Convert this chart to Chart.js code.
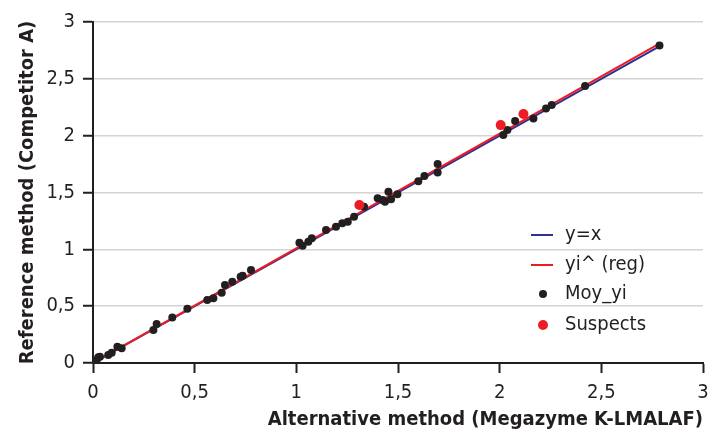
<!DOCTYPE html>
<html>
<head>
<meta charset="utf-8">
<script src="https://cdn.jsdelivr.net/npm/chart.js@4.4.1/dist/chart.umd.min.js"></script>
<style>
  html, body { margin: 0; padding: 0; background: #fff; }
  #wrap { width: 720px; height: 432px; }
</style>
</head>
<body>
<div id="wrap"><canvas id="c" width="720" height="432"></canvas></div>
<script>
// values
var moyX = [0.018, 0.026, 0.034, 0.075, 0.092, 0.12, 0.141, 0.297, 0.313, 0.39, 0.464,
    0.562, 0.592, 0.633, 0.649, 0.685, 0.726, 0.736, 0.777,
    1.015, 1.031, 1.059, 1.076, 1.146, 1.195, 1.226, 1.253, 1.284, 1.333,
    1.40, 1.425, 1.436, 1.453, 1.466, 1.497, 1.60, 1.63, 1.695, 1.695,
    2.018, 2.038, 2.076, 2.166, 2.228, 2.256, 2.42, 2.786];
var moyY = [0.026, 0.05, 0.055, 0.07, 0.09, 0.143, 0.129, 0.29, 0.343, 0.40, 0.478,
    0.554, 0.569, 0.618, 0.686, 0.715, 0.759, 0.768, 0.818,
    1.058, 1.032, 1.067, 1.097, 1.17, 1.199, 1.229, 1.243, 1.287, 1.375,
    1.449, 1.434, 1.419, 1.507, 1.44, 1.484, 1.60, 1.645, 1.75, 1.677,
    2.005, 2.049, 2.128, 2.152, 2.24, 2.269, 2.436, 2.794];
var suspX = [1.31, 2.005, 2.117];
var suspY = [1.39, 2.093, 2.19];
var identX = [0, 2.79];
var identY = [0, 2.79];
var regX = [0, 2.79];
var regY = [0.0, 2.815];
var tickVals = [0, 0.5, 1, 1.5, 2, 2.5, 3];

function pts(xs, ys) {
    return xs.map(function (x, i) { return { x: x, y: ys[i] }; });
}
function fmt(v) { return String(v).replace('.', ','); }

var FONT = "'Liberation Sans Narrow', 'DejaVu Sans Condensed', 'Arial Narrow', sans-serif";
var INK = '#231f20';
var BLUE = '#2e3192';
var RED = '#ed1c24';

var legendPlugin = {
    id: 'insideLegend',
    afterDatasetsDraw: function (chart) {
        var ctx = chart.ctx;
        var a = chart.chartArea;
        var x0 = a.right - 172;
        var rows = [
            { label: 'y=x', kind: 'line', color: BLUE, y: a.top + 213 },
            { label: 'yi^ (reg)', kind: 'line', color: RED, y: a.top + 243 },
            { label: 'Moy_yi', kind: 'dot', color: INK, r: 4, y: a.top + 272 },
            { label: 'Suspects', kind: 'dot', color: RED, r: 5, y: a.top + 303 }
        ];
        ctx.save();
        rows.forEach(function (r) {
            if (r.kind === 'line') {
                ctx.strokeStyle = r.color;
                ctx.lineWidth = 2;
                ctx.beginPath();
                ctx.moveTo(x0, r.y);
                ctx.lineTo(x0 + 22, r.y);
                ctx.stroke();
            } else {
                ctx.fillStyle = r.color;
                ctx.beginPath();
                ctx.arc(x0 + 12, r.y, r.r, 0, Math.PI * 2);
                ctx.fill();
            }
            ctx.fillStyle = INK;
            ctx.font = '20px ' + FONT;
            ctx.textBaseline = 'middle';
            ctx.textAlign = 'left';
            ctx.fillText(r.label, x0 + 34, r.y);
        });
        ctx.restore();
    }
};

new Chart(document.getElementById('c'), {
    type: 'scatter',
    data: {
        datasets: [
            {
                label: 'Suspects', data: pts(suspX, suspY), order: 0,
                backgroundColor: RED, borderColor: RED, pointRadius: 5, pointBorderWidth: 0
            },
            {
                label: 'Moy_yi', data: pts(moyX, moyY), order: 1,
                backgroundColor: INK, borderColor: INK, pointRadius: 4, pointBorderWidth: 0
            },
            {
                label: 'yi^ (reg)', type: 'line', data: pts(regX, regY), order: 2,
                borderColor: RED, borderWidth: 2, pointRadius: 0, fill: false
            },
            {
                label: 'y=x', type: 'line', data: pts(identX, identY), order: 3,
                borderColor: BLUE, borderWidth: 2, pointRadius: 0, fill: false
            }
        ]
    },
    options: {
        responsive: false,
        animation: false,
        layout: { padding: { top: 22, right: 17, left: 0, bottom: 0 } },
        plugins: {
            legend: { display: false },
            tooltip: { enabled: false }
        },
        scales: {
            x: {
                type: 'linear', min: 0, max: 3,
                afterBuildTicks: function (s) { s.ticks = tickVals.map(function (v) { return { value: v }; }); },
                afterFit: function (s) { s.height = 69; },
                border: { color: INK, width: 2 },
                grid: { drawOnChartArea: false, tickColor: INK, tickLength: 10, tickWidth: 2 },
                ticks: {
                    color: INK, padding: 8, maxRotation: 0,
                    font: { family: FONT, size: 20 },
                    callback: function (v) { return fmt(v); }
                },
                title: {
                    display: true, align: 'end', text: 'Alternative method (Megazyme K-LMALAF)',
                    color: INK, padding: { top: 2, bottom: 0 },
                    font: { family: FONT, size: 20, weight: 'bold' }
                }
            },
            y: {
                type: 'linear', min: 0, max: 3,
                afterBuildTicks: function (s) { s.ticks = tickVals.map(function (v) { return { value: v }; }); },
                afterFit: function (s) { s.width = 93; },
                border: { color: INK, width: 2 },
                grid: { color: '#d4d4d4', lineWidth: 1.5, tickColor: INK, tickLength: 10, tickWidth: 2 },
                ticks: {
                    color: INK, padding: 8,
                    font: { family: FONT, size: 20 },
                    callback: function (v) { return fmt(v); }
                },
                title: {
                    display: true, text: 'Reference method (Competitor A)',
                    color: INK, padding: { top: 16, bottom: 0 },
                    font: { family: FONT, size: 20, weight: 'bold' }
                }
            }
        }
    },
    plugins: [legendPlugin]
});
</script>
</body>
</html>
